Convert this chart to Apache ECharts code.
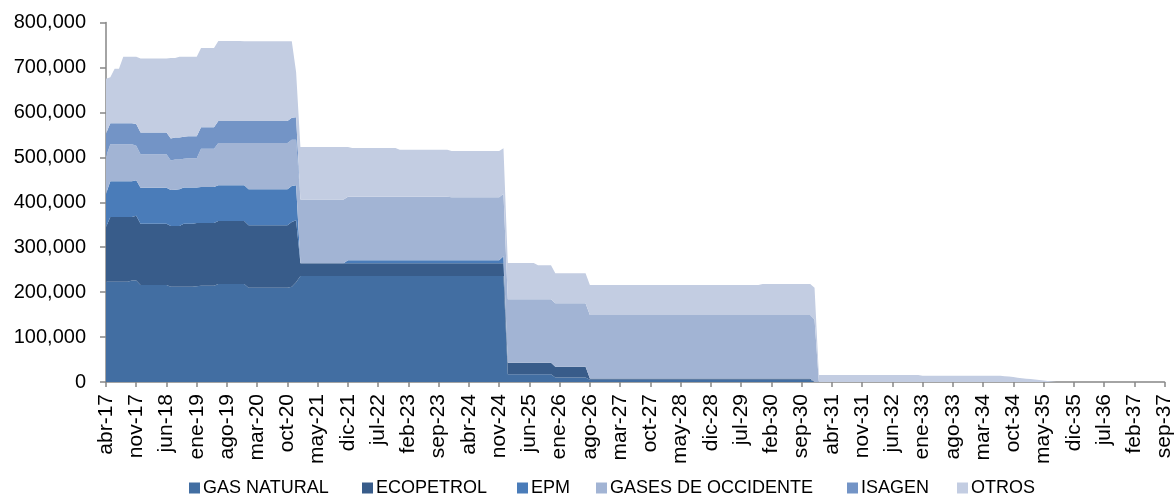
<!DOCTYPE html>
<html>
<head>
<meta charset="utf-8">
<script src="https://cdn.jsdelivr.net/npm/echarts@6/dist/echarts.min.js"></script>
<style>
  html, body { margin: 0; padding: 0; background: #ffffff; }
  #chart { width: 1175px; height: 496px; }
</style>
</head>
<body>
<div id="chart"></div>
<script>
// Monthly series from abr-17 to sep-37, values in thousands
const monthNames = ['ene','feb','mar','abr','may','jun','jul','ago','sep','oct','nov','dic'];
const startMonth = 3;   // abr
const startYear = 17;
const monthCount = 246;

const gasNatural = [
  223,223,223,223,223,223,226,226,216,216,216,216,
  216,216,216,212,212,212,212,212,212,213,214,214,
  214,214,218,218,218,218,218,218,218,210,210,210,
  210,210,210,210,210,210,210,212,222,236,236,236,
  236,236,236,236,236,236,236,236,236,236,236,236,
  236,236,236,236,236,236,236,236,236,236,236,236,
  236,236,236,236,236,236,236,236,236,236,236,236,
  236,236,236,236,236,236,236,236,236,17,17,17,
  17,17,17,17,17,17,17,17,10,10,10,10,
  10,10,10,10,5,5,5,5,5,5,5,5,
  5,5,5,5,5,5,5,5,5,5,5,5,
  5,5,5,5,5,5,5,5,5,5,5,5,
  5,5,5,5,5,5,5,5,5,5,5,5,
  5,5,5,5,5,5,5,5,0,0,0,0,
  0,0,0,0,0,0,0,0,0,0,0,0,
  0,0,0,0,0,0,0,0,0,0,0,0,
  0,0,0,0,0,0,0,0,0,0,0,0,
  0,0,0,0,0,0,0,0,0,0,0,0,
  0,0,0,0,0,0,0,0,0,0,0,0,
  0,0,0,0,0,0,0,0,0,0,0,0,
  0,0,0,0,0,0
];

const ecopetrol = [
  122,144,144,144,144,144,141,144,136,136,136,136,
  136,136,136,135,135,135,140,140,140,141,140,140,
  140,140,140,140,140,140,140,140,140,139,139,139,
  139,139,139,139,139,139,139,144,138,28,28,28,
  28,28,28,28,28,28,28,28,28,28,28,28,
  28,28,28,28,28,28,28,28,28,28,28,28,
  28,28,28,28,28,28,28,28,28,28,28,28,
  28,28,28,28,28,28,28,28,28,26,26,26,
  26,26,26,26,26,26,26,26,24,24,24,24,
  24,24,24,24,3,3,3,3,3,3,3,3,
  3,3,3,3,3,3,3,3,3,3,3,3,
  3,3,3,3,3,3,3,3,3,3,3,3,
  3,3,3,3,3,3,3,3,3,3,3,3,
  3,3,3,3,3,3,3,3,0,0,0,0,
  0,0,0,0,0,0,0,0,0,0,0,0,
  0,0,0,0,0,0,0,0,0,0,0,0,
  0,0,0,0,0,0,0,0,0,0,0,0,
  0,0,0,0,0,0,0,0,0,0,0,0,
  0,0,0,0,0,0,0,0,0,0,0,0,
  0,0,0,0,0,0,0,0,0,0,0,0,
  0,0,0,0,0,0
];

const epm = [
  74,80,80,80,80,80,80,79,80,80,80,80,
  80,80,80,80,81,82,81,81,81,79,80,80,
  80,80,80,80,80,80,80,80,80,80,80,80,
  80,80,80,80,80,80,80,80,78,0,0,0,
  0,0,0,0,0,0,0,0,7,7,7,7,
  7,7,7,7,7,7,7,7,7,7,7,7,
  7,7,7,7,7,7,7,7,7,7,7,7,
  7,7,7,7,7,7,7,7,16,0,0,0,
  0,0,0,0,0,0,0,0,0,0,0,0,
  0,0,0,0,0,0,0,0,0,0,0,0,
  0,0,0,0,0,0,0,0,0,0,0,0,
  0,0,0,0,0,0,0,0,0,0,0,0,
  0,0,0,0,0,0,0,0,0,0,0,0,
  0,0,0,0,0,0,0,0,0,0,0,0,
  0,0,0,0,0,0,0,0,0,0,0,0,
  0,0,0,0,0,0,0,0,0,0,0,0,
  0,0,0,0,0,0,0,0,0,0,0,0,
  0,0,0,0,0,0,0,0,0,0,0,0,
  0,0,0,0,0,0,0,0,0,0,0,0,
  0,0,0,0,0,0,0,0,0,0,0,0,
  0,0,0,0,0,0
];

const gasesDeOccidente = [
  82,82,82,82,82,82,82,77,75,75,75,75,
  75,75,75,66,67,66,64,65,65,65,85,85,
  85,85,94,94,94,94,94,94,94,103,103,103,
  103,103,103,103,103,103,103,103,101,142,142,142,
  142,142,142,142,142,142,142,142,141,141,141,141,
  141,141,141,141,141,141,141,141,141,141,141,141,
  141,141,141,141,141,141,141,141,140,140,140,140,
  140,140,140,140,140,140,140,140,139,141,141,141,
  141,141,141,141,141,141,141,141,141,141,141,141,
  141,141,141,141,141,141,141,141,141,141,141,141,
  141,141,141,141,141,141,141,141,141,141,141,141,
  141,141,141,141,141,141,141,141,141,141,141,141,
  141,141,141,141,141,141,141,141,141,141,141,141,
  141,141,141,141,141,141,141,141,139,0,0,0,
  0,0,0,0,0,0,0,0,0,0,0,0,
  0,0,0,0,0,0,0,0,0,0,0,0,
  0,0,0,0,0,0,0,0,0,0,0,0,
  0,0,0,0,0,0,0,0,0,0,0,0,
  0,0,0,0,0,0,0,0,0,0,0,0,
  0,0,0,0,0,0,0,0,0,0,0,0,
  0,0,0,0,0,0
];

const isagen = [
  52,47,47,47,47,47,47,48,48,48,48,48,
  48,48,48,49,49,49,49,49,49,49,48,48,
  48,48,49,49,49,49,49,49,49,49,49,49,
  49,49,49,49,49,49,49,49,50,0,0,0,
  0,0,0,0,0,0,0,0,0,0,0,0,
  0,0,0,0,0,0,0,0,0,0,0,0,
  0,0,0,0,0,0,0,0,0,0,0,0,
  0,0,0,0,0,0,0,0,0,0,0,0,
  0,0,0,0,0,0,0,0,0,0,0,0,
  0,0,0,0,0,0,0,0,0,0,0,0,
  0,0,0,0,0,0,0,0,0,0,0,0,
  0,0,0,0,0,0,0,0,0,0,0,0,
  0,0,0,0,0,0,0,0,0,0,0,0,
  0,0,0,0,0,0,0,0,0,0,0,0,
  0,0,0,0,0,0,0,0,0,0,0,0,
  0,0,0,0,0,0,0,0,0,0,0,0,
  0,0,0,0,0,0,0,0,0,0,0,0,
  0,0,0,0,0,0,0,0,0,0,0,0,
  0,0,0,0,0,0,0,0,0,0,0,0,
  0,0,0,0,0,0,0,0,0,0,0,0,
  0,0,0,0,0,0
];

const otros = [
  122,102,121,121,148,148,148,150,165,165,165,165,
  165,165,165,179,177,180,178,177,177,177,176,176,
  176,176,178,178,178,178,178,178,177,177,177,177,
  177,177,177,177,177,177,177,170,101,117,117,117,
  117,117,117,117,117,117,117,117,111,109,109,109,
  109,109,109,109,109,109,109,109,105,105,105,105,
  105,105,105,105,105,105,105,105,103,103,103,103,
  103,103,103,103,103,103,103,103,101,81,81,81,
  81,81,81,81,76,76,76,76,67,67,67,67,
  67,67,67,67,67,67,67,67,67,67,67,67,
  67,67,67,67,67,67,67,67,67,67,67,67,
  67,67,67,67,67,67,67,67,67,67,67,67,
  67,67,67,67,67,67,67,67,69,69,69,69,
  69,69,69,69,69,69,69,69,71,15.5,15.5,15.5,
  15.5,15.5,15.5,15.5,15.5,15.5,15.5,15.5,15.5,15.5,15.5,15.5,
  15.5,15.5,15.5,15.5,15.5,15.5,15.5,15.5,15.5,14,14,14,
  14,14,14,14,14,14,14,14,14,14,14,14,
  14,14,14,14,13,12,11,9.5,8.5,7.5,6.5,5.5,
  4.5,3.5,2,1,0,0,0,0,0,0,0,0,
  0,0,0,0,0,0,0,0,0,0,0,0,
  0,0,0,0,0,0
];

const seriesNames = ['GAS NATURAL', 'ECOPETROL', 'EPM', 'GASES DE OCCIDENTE', 'ISAGEN', 'OTROS'];
const seriesValues = [gasNatural, ecopetrol, epm, gasesDeOccidente, isagen, otros];
const seriesColors = ['#426ea2', '#385c8a', '#4a7cb9', '#a2b4d4', '#7394c6', '#c3cde2'];
const legendLeft = [189, 362, 517, 596, 847, 957];

// Month labels such as "abr-17"
const categories = [];
for (let k = 0; k < monthCount; k++) {
  const m = (startMonth + k) % 12;
  const y = startYear + Math.floor((startMonth + k) / 12);
  categories.push(monthNames[m] + '-' + String(y).padStart(2, '0'));
}

const FONT = '"Liberation Sans", Arial, sans-serif';
const AXIS_GRAY = '#868686';

const chart = echarts.init(document.getElementById('chart'), null, { renderer: 'canvas' });

chart.setOption({
  animation: false,
  backgroundColor: '#ffffff',
  grid: { left: 106, right: 3, top: 22.5, bottom: 114, containLabel: false },
  legend: seriesNames.map((name, k) => ({
    data: [name],
    left: legendLeft[k],
    top: 479,
    padding: 0,
    itemWidth: 11,
    itemHeight: 11,
    icon: 'rect',
    selectedMode: false,
    textStyle: { fontFamily: FONT, fontSize: 18, color: '#000000', padding: [0, 0, 0, -2] }
  })),
  xAxis: {
    type: 'category',
    data: categories,
    boundaryGap: false,
    axisLine: { show: true, lineStyle: { color: AXIS_GRAY, width: 1.5 } },
    axisTick: { show: true, interval: 6, length: 5, lineStyle: { color: AXIS_GRAY, width: 1.5 } },
    axisLabel: {
      interval: 6,
      rotate: 90,
      margin: 12,
      fontFamily: FONT,
      fontSize: 21,
      color: '#000000'
    },
    splitLine: { show: false }
  },
  yAxis: {
    type: 'value',
    min: 0,
    max: 800000,
    interval: 100000,
    axisLine: { show: true, lineStyle: { color: AXIS_GRAY, width: 1.5 } },
    axisTick: { show: true, length: 6, lineStyle: { color: AXIS_GRAY, width: 1.5 } },
    axisLabel: {
      margin: 20,
      fontFamily: FONT,
      fontSize: 20,
      color: '#000000',
      formatter: v => v.toLocaleString('en-US')
    },
    splitLine: { show: false }
  },
  series: seriesNames.map((name, k) => ({
    name: name,
    type: 'line',
    stack: 'total',
    data: seriesValues[k].map(v => v * 1000),
    symbol: 'none',
    showSymbol: false,
    smooth: false,
    color: seriesColors[k],
    lineStyle: { width: 0 },
    areaStyle: { color: seriesColors[k], opacity: 1 },
    emphasis: { disabled: true },
    silent: true
  }))
});
</script>
</body>
</html>
